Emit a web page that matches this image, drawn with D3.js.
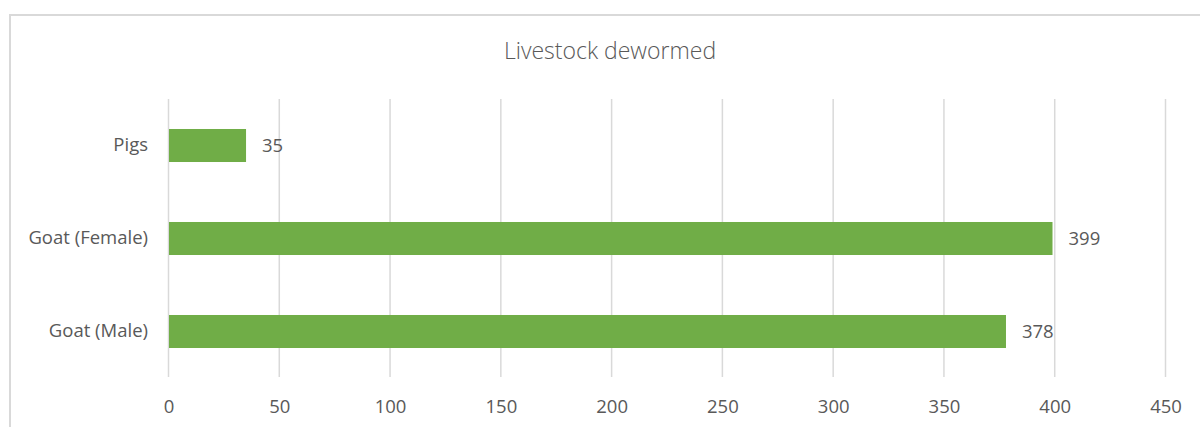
<!DOCTYPE html>
<html lang="en">
<head>
<meta charset="utf-8">
<title>Livestock dewormed</title>
<script src="https://cdn.jsdelivr.net/npm/d3@7"></script>
<style>
  body { margin: 0; background: #fff; }
  svg text { font-family: "Open Sans", "Noto Sans", sans-serif; fill: #595959; }
</style>
</head>
<body>
<svg id="chart" width="1200" height="427"></svg>
<script>
// data, top to bottom
const categories = ["Pigs", "Goat (Female)", "Goat (Male)"]
const values = [35, 399, 378]
const xTicks = [0, 50, 100, 150, 200, 250, 300, 350, 400, 450]

const svg = d3.select("#chart")

// chart frame (only left and top edges fall inside the picture)
svg.append("path")
  .attr("d", "M10,427V15H1200")
  .attr("fill", "none")
  .attr("stroke", "#d9d9d9")
  .attr("stroke-width", 2)

svg.append("text")
  .attr("x", 610)
  .attr("y", 59)
  .attr("text-anchor", "middle")
  .style("font-size", "23px")
  .style("font-weight", 300)
  .text("Livestock dewormed")

const x = d3.scaleLinear().domain([0, 450]).range([168.5, 1165.5])
const y = d3.scaleBand().domain(categories).range([99, 378])
  .paddingInner(0.645).paddingOuter(0.3225)

// vertical gridlines
svg.append("g")
  .selectAll("line")
  .data(xTicks).enter()
  .append("line")
  .attr("x1", d => x(d))
  .attr("x2", d => x(d))
  .attr("y1", 99)
  .attr("y2", 377)
  .attr("stroke", "#d9d9d9")
  .attr("stroke-width", 1.5)

// x axis labels
const xAxis = svg.append("g")
  .attr("transform", "translate(0,395)")
  .call(d3.axisBottom(x).tickValues(xTicks).tickSize(0).tickPadding(0))
xAxis.select(".domain").remove()
xAxis.selectAll("text")
  .attr("dy", "0.95em")
  .style("font-size", "18.5px")
  .attr("fill", "#595959")

// y axis labels
const yAxis = svg.append("g")
  .attr("transform", "translate(148,0)")
  .call(d3.axisLeft(y).tickSize(0).tickPadding(0))
yAxis.select(".domain").remove()
yAxis.selectAll("text")
  .style("font-size", "18.5px")
  .attr("fill", "#595959")

const rows = categories.map((c, i) => ({ cat: c, val: values[i] }))

svg.append("g")
  .selectAll("rect")
  .data(rows).enter()
  .append("rect")
  .attr("x", x(0) + 0.5)
  .attr("y", d => y(d.cat))
  .attr("width", d => x(d.val) - x(0) - 0.5)
  .attr("height", y.bandwidth())
  .attr("fill", "#70ad47")

svg.append("g")
  .selectAll("text")
  .data(rows).enter()
  .append("text")
  .attr("x", d => x(d.val) + 16)
  .attr("y", d => y(d.cat) + y.bandwidth() / 2)
  .attr("dy", "0.35em")
  .style("font-size", "18.5px")
  .text(d => d.val)
</script>
</body>
</html>
